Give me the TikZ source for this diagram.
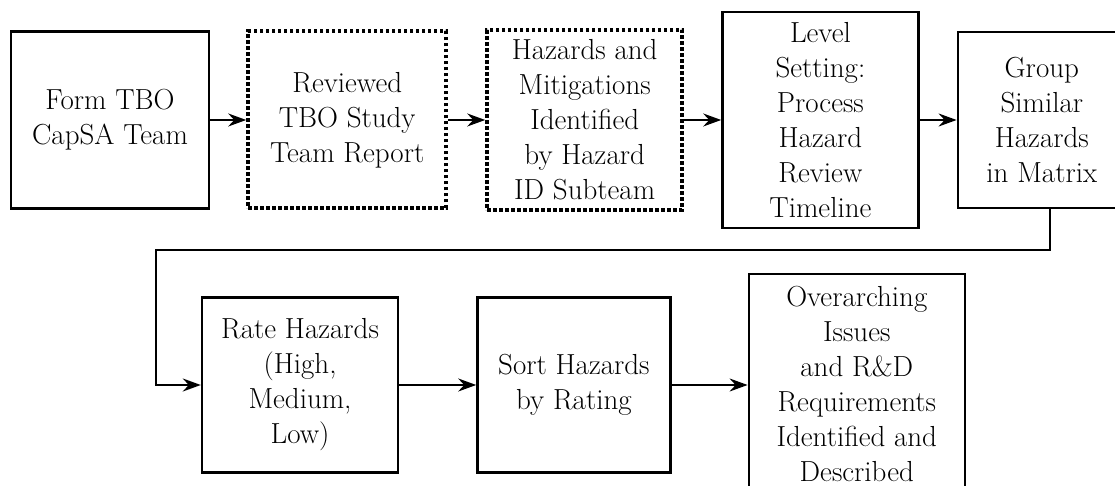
\documentclass[tikz,border=0pt]{standalone}
\usetikzlibrary{arrows.meta, positioning}
\tikzset{
  box/.style={
    rectangle, draw, line width=2.4pt, align=center,
    minimum width=196pt, minimum height=177pt,
    inner sep=2pt, font=\fontsize{29}{35}\selectfont
  },
  dotbox/.style={box, line width=4pt, dash pattern=on 3.6pt off 2.4pt},
  arrow/.style={-{Stealth[length=18pt, width=13pt, inset=6pt]}, line width=1.8pt},
}

\begin{document}
\begin{tikzpicture}[x=1pt, y=1pt, node distance=36pt]
\useasboundingbox (0,0) rectangle (1115,486);

%% ---- TOP ROW ----
\node[box, minimum width=198pt] (form) at (110,366) {Form TBO\\CapSA Team};
\node[dotbox, minimum width=198pt, right=of form] (review) {Reviewed\\TBO Study\\Team Report};
\node[dotbox, minimum width=195pt, minimum height=180pt, right=37pt of review] (hazid) {Hazards and\\Mitigations\\Identified\\by Hazard\\ID Subteam};
\node[box, minimum height=216pt, right=37pt of hazid] (level) {Level\\Setting:\\Process\\Hazard\\Review\\Timeline};
\node[box, minimum width=168pt, minimum height=176pt, right=37pt of level] (group) {Group\\Similar\\Hazards\\in Matrix};

\draw[arrow] (form)   -- (review);
\draw[arrow] (review) -- (hazid);
\draw[arrow] (hazid)  -- (level);
\draw[arrow] (level)  -- (group);

%% ---- BOTTOM ROW ----
\node[box, minimum height=175pt] (rate) at (300,101) {Rate Hazards\\(High,\\Medium,\\Low)};
\node[box, minimum width=193pt, minimum height=175pt, right=77pt of rate] (sort) {Sort Hazards\\by Rating};
\node[box, minimum width=216pt, minimum height=220pt, right=76pt of sort, yshift=1pt] (overarch) {Overarching\\Issues\\and R\&D\\Requirements\\Identified and\\Described};

\draw[arrow] (rate) -- (sort);
\draw[arrow] (sort) -- (sort -| overarch.west);

%% wrap-around from the top row down to the bottom row
\coordinate (turn) at (156,236);
\draw[arrow] ([xshift=8pt]group.south) |- (turn) |- (rate.west);

\end{tikzpicture}
\end{document}
